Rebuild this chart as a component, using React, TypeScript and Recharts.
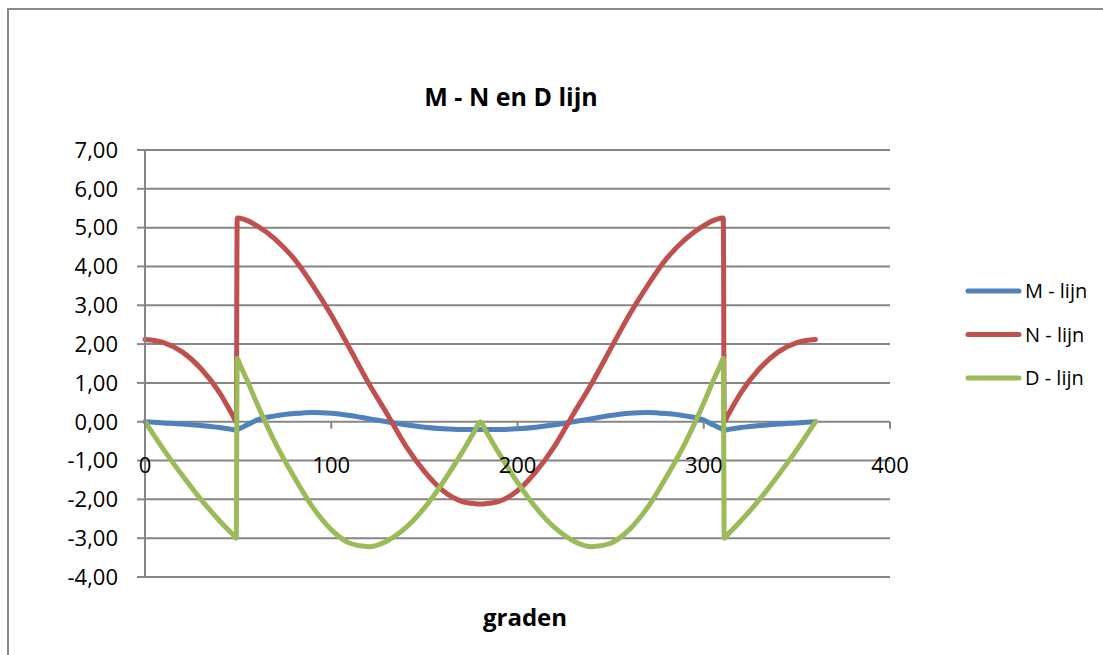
import React from 'react';
import { LineChart, Line, XAxis, YAxis, CartesianGrid, ReferenceDot } from 'recharts';

// graden (x) with the M, N and D values
const degrees = [0, 10, 20, 30, 40, 47, 49, 49.5, 51, 55, 60, 70, 80, 90, 100, 110, 120, 130, 140, 150, 160, 170, 177, 180,
  183, 190, 200, 210, 220, 230, 240, 250, 260, 270, 280, 290, 300, 305, 309, 310.5, 311, 313, 320, 330, 340, 350, 360];

const mLijn = [0, -0.03, -0.06, -0.1, -0.15, -0.2, -0.22, -0.21, -0.17, -0.08, 0.04, 0.15, 0.21, 0.24, 0.22, 0.16, 0.08, 0, -0.08, -0.14, -0.18, -0.2, -0.2, -0.2,
  -0.2, -0.2, -0.18, -0.14, -0.08, 0, 0.08, 0.16, 0.22, 0.24, 0.21, 0.15, 0.04, -0.08, -0.17, -0.21, -0.22, -0.2, -0.15, -0.1, -0.06, -0.03, 0];

const nLijn = [2.12, 2.04, 1.8, 1.37, 0.75, 0.17, 0, 5.25, 5.24, 5.18, 5.05, 4.7, 4.2, 3.52, 2.75, 1.88, 1.0, 0.2, -0.62, -1.28, -1.78, -2.05, -2.11, -2.12,
  -2.11, -2.05, -1.78, -1.28, -0.62, 0.2, 1.0, 1.88, 2.75, 3.52, 4.2, 4.7, 5.05, 5.18, 5.24, 5.25, 0, 0.17, 0.75, 1.37, 1.8, 2.04, 2.12];

const dLijn = [0, -0.72, -1.38, -2.0, -2.55, -2.9, -3.0, 1.63, 1.47, 1.05, 0.48, -0.55, -1.42, -2.2, -2.78, -3.13, -3.22, -3.07, -2.73, -2.22, -1.56, -0.81, -0.24, 0,
  -0.24, -0.81, -1.56, -2.22, -2.73, -3.07, -3.22, -3.13, -2.78, -2.2, -1.42, -0.55, 0.48, 1.05, 1.47, 1.63, -3.0, -2.9, -2.55, -2.0, -1.38, -0.72, 0];

const yTicks = [-4, -3, -2, -1, 0, 1, 2, 3, 4, 5, 6, 7];
const xTicks = [0, 100, 200, 300, 400];

const series = [
  { key: 'm', name: 'M - lijn', color: '#4F81BD' },
  { key: 'n', name: 'N - lijn', color: '#C0504D' },
  { key: 'd', name: 'D - lijn', color: '#9BBB59' },
];

const data = degrees.map((g, i) => ({ graden: g, m: mLijn[i], n: nLijn[i], d: dLijn[i] }));

const GRID = '#868686';
const FONT = '"Open Sans", sans-serif';

const fmt = (v: number) => v.toFixed(2).replace('.', ',');

export default function App() {
  return (
    <div style={{ position: 'fixed', left: 0, top: 0, width: 1103, height: 655, overflow: 'hidden', background: '#fff', fontFamily: FONT }}>
      <div style={{ position: 'absolute', left: 7, top: 8, width: 1300, height: 900, border: '2px solid #898989', boxSizing: 'border-box' }} />
      <div style={{ position: 'absolute', left: 0, top: 0 }}>
        <LineChart width={1103} height={655} data={data} margin={{ top: 150, right: 213, bottom: 78, left: 45 }}>
          <CartesianGrid vertical={false} stroke={GRID} strokeWidth={2} />
          <XAxis dataKey="graden" type="number" domain={[0, 400]} ticks={xTicks} hide />
          <YAxis
            type="number"
            domain={[-4, 7]}
            ticks={yTicks}
            width={100}
            interval={0}
            tickFormatter={fmt}
            axisLine={{ stroke: GRID, strokeWidth: 2 }}
            tickLine={{ stroke: GRID, strokeWidth: 2 }}
            tickSize={8}
            tickMargin={19}
            tick={{ fill: '#000', fontSize: 22, fontFamily: FONT }}
          />
          {series.map((s) => (
            <Line
              key={s.key}
              type="monotone"
              dataKey={s.key}
              name={s.name}
              stroke={s.color}
              strokeWidth={5}
              strokeLinejoin="round"
              strokeLinecap="round"
              dot={false}
              activeDot={false}
              isAnimationActive={false}
            />
          ))}
          {xTicks.map((t) => (
            <ReferenceDot
              key={t}
              x={t}
              y={0}
              r={0}
              fill="none"
              stroke="none"
              ifOverflow="visible"
              label={(p: any) => {
                const vb = p.viewBox || { x: 0, y: 0, width: 0, height: 0 };
                const cx = vb.x + vb.width / 2;
                const cy = vb.y + vb.height / 2;
                return (
                  <g>
                    {t > 0 && <line x1={cx} y1={cy} x2={cx} y2={cy + 7} stroke={GRID} strokeWidth={2} />}
                    <text x={cx} y={cy + 51} textAnchor="middle" fontSize={22} fontFamily={FONT} fill="#000">{t}</text>
                  </g>
                );
              }}
            />
          ))}
        </LineChart>
      </div>
      <svg width={1103} height={655} style={{ position: 'absolute', left: 0, top: 0, pointerEvents: 'none' }}>
        <text x={511} y={106} textAnchor="middle" fontSize={25} fontWeight="bold" fontFamily={FONT} fill="#000">M - N en D lijn</text>
        <text x={525} y={626} textAnchor="middle" fontSize={24} fontWeight="bold" fontFamily={FONT} fill="#000">graden</text>
        {series.map((s, i) => (
          <g key={s.key}>
            <line x1={968} x2={1019} y1={291 + i * 43.5} y2={291 + i * 43.5} stroke={s.color} strokeWidth={5} strokeLinecap="round" />
            <text x={1025} y={298 + i * 43.5} fontSize={20} fontFamily={FONT} fill="#000">{s.name}</text>
          </g>
        ))}
      </svg>
    </div>
  );
}
